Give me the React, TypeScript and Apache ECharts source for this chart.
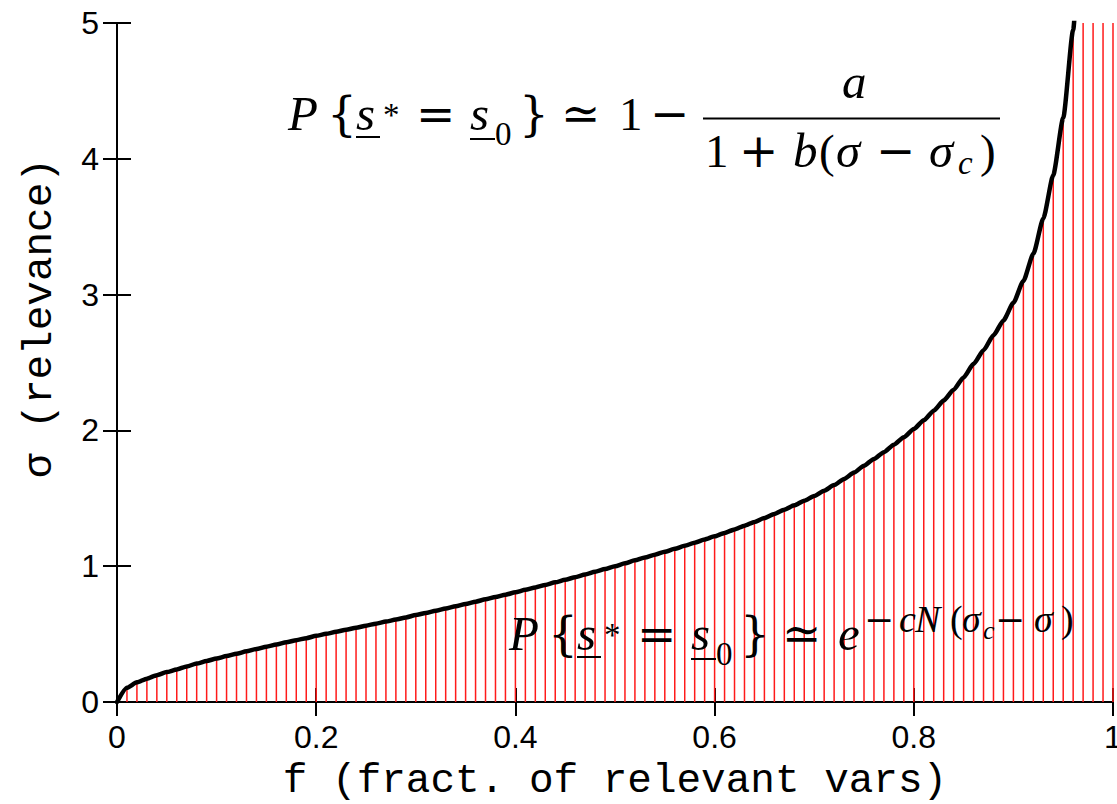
import React, { useEffect, useRef } from "react";
import * as echarts from "echarts";

// Fraction of relevant variables (x) and the critical relevance sigma_c (y)
const fractions = [
  0, 0.01, 0.02, 0.03, 0.04, 0.05, 0.06, 0.07, 0.08, 0.09,
  0.1, 0.11, 0.12, 0.13, 0.14, 0.15, 0.16, 0.17, 0.18, 0.19,
  0.2, 0.21, 0.22, 0.23, 0.24, 0.25, 0.26, 0.27, 0.28, 0.29,
  0.3, 0.31, 0.32, 0.33, 0.34, 0.35, 0.36, 0.37, 0.38, 0.39,
  0.4, 0.41, 0.42, 0.43, 0.44, 0.45, 0.46, 0.47, 0.48, 0.49,
  0.5, 0.51, 0.52, 0.53, 0.54, 0.55, 0.56, 0.57, 0.58, 0.59,
  0.6, 0.61, 0.62, 0.63, 0.64, 0.65, 0.66, 0.67, 0.68, 0.69,
  0.7, 0.71, 0.72, 0.73, 0.74, 0.75, 0.76, 0.77, 0.78, 0.79,
  0.8, 0.81, 0.82, 0.83, 0.84, 0.85, 0.86, 0.87, 0.88, 0.89,
  0.9, 0.91, 0.92, 0.93, 0.94, 0.95, 0.96, 0.97, 0.98, 0.99,
  1.0,
];

const relevance = [
  0, 0.105, 0.145, 0.172, 0.197, 0.22, 0.24, 0.262, 0.283, 0.302,
  0.32, 0.338, 0.355, 0.373, 0.39, 0.407, 0.423, 0.44, 0.455, 0.47,
  0.487, 0.502, 0.517, 0.532, 0.547, 0.562, 0.577, 0.592, 0.607, 0.623,
  0.64, 0.656, 0.672, 0.689, 0.705, 0.722, 0.739, 0.756, 0.773, 0.79,
  0.808, 0.826, 0.844, 0.862, 0.881, 0.9, 0.919, 0.939, 0.959, 0.979,
  1.0, 1.021, 1.043, 1.064, 1.085, 1.106, 1.128, 1.15, 1.173, 1.196,
  1.22, 1.245, 1.271, 1.298, 1.326, 1.355, 1.385, 1.416, 1.448, 1.482,
  1.517, 1.556, 1.598, 1.643, 1.69, 1.74, 1.79, 1.84, 1.895, 1.95,
  2.01, 2.075, 2.145, 2.22, 2.3, 2.39, 2.49, 2.59, 2.7, 2.81,
  2.94, 3.1, 3.3, 3.56, 3.88, 4.3, 4.95, 6.2, 8.0, 11.0,
  16.0,
];

const xTicks = [0, 0.2, 0.4, 0.6, 0.8, 1];
const yTicks = [0, 1, 2, 3, 4, 5];

const xTitle = "f (fract. of relevant vars)";
const yTitle = "\u03c3 (relevance)";

const MONO = "'Liberation Mono', 'DejaVu Sans Mono', monospace";
const SERIF = "'Liberation Serif', 'DejaVu Serif', serif";
const SYMB = "'DejaVu Serif', 'DejaVu Sans', serif";

// One glyph run of a typeset formula: text, left x, baseline y, size, font kind
type Run = [string, number, number, number, "i" | "r" | "s"];

const upperFormula: Run[] = [
  ["P", 288, 130, 49, "i"],
  ["{", 327, 130, 47, "s"],
  ["s", 356, 130, 49, "i"],
  ["*", 383, 126, 33, "r"],
  ["=", 416, 130, 47, "s"],
  ["s", 470, 130, 49, "i"],
  ["0", 495, 145, 33, "r"],
  ["}", 519, 130, 47, "s"],
  ["\u2243", 561, 130, 47, "s"],
  ["1", 619, 130, 47, "r"],
  ["\u2212", 650, 130, 47, "s"],
  ["a", 842, 98, 49, "i"],
  ["1", 705, 167, 47, "r"],
  ["+", 739, 167, 47, "s"],
  ["b", 793, 167, 49, "i"],
  ["(", 819, 167, 47, "r"],
  ["\u03c3", 836, 167, 49, "i"],
  ["\u2212", 876, 167, 47, "s"],
  ["\u03c3", 929, 167, 49, "i"],
  ["c", 958, 174, 33, "i"],
  [")", 980, 167, 47, "r"],
];

const lowerFormula: Run[] = [
  ["P", 509, 650, 49, "i"],
  ["{", 548, 650, 47, "s"],
  ["s", 577, 650, 49, "i"],
  ["*", 604, 646, 33, "r"],
  ["=", 637, 650, 47, "s"],
  ["s", 691, 650, 49, "i"],
  ["0", 716, 665, 33, "r"],
  ["}", 740, 650, 47, "s"],
  ["\u2243", 782, 650, 47, "s"],
  ["e", 838, 650, 49, "i"],
  ["\u2212", 864, 632, 36, "s"],
  ["c", 899, 632, 38, "i"],
  ["N", 915, 632, 38, "i"],
  ["(", 950, 632, 38, "r"],
  ["\u03c3", 962, 632, 38, "i"],
  ["c", 983, 639, 26, "i"],
  ["\u2212", 995, 632, 36, "s"],
  ["\u03c3", 1034, 632, 38, "i"],
  [")", 1061, 632, 38, "r"],
];

// Underlines below the vector symbols and the fraction bar
const rules: [number, number, number, number][] = [
  [356, 137, 380, 137],
  [470, 139, 495, 139],
  [577, 657, 601, 657],
  [691, 659, 716, 659],
  [703, 118.5, 1000, 118.5],
];

function runToGraphic(r: Run) {
  const [text, x, base, size, kind] = r;
  const family = kind === "s" ? SYMB : SERIF;
  const style = kind === "i" ? "italic " : "";
  const central = kind === "s" ? 0.346 : 0.3375;
  return {
    type: "text",
    x,
    y: base - central * size,
    z: 100,
    silent: true,
    style: {
      text,
      font: `${style}${size}px ${family}`,
      fill: "#000",
      align: "left",
      verticalAlign: "middle",
      textAlign: "left",
      textVerticalAlign: "middle",
    },
  };
}

export default function App() {
  const ref = useRef<HTMLDivElement>(null);

  useEffect(() => {
    if (!ref.current) return;
    const chart = echarts.init(ref.current, undefined, { renderer: "svg" });
    const points = fractions.map((f, i) => [f, relevance[i]]);

    const axisLine = { show: true, lineStyle: { color: "#000", width: 2 } };
    const axisTick = { show: true, inside: true, length: 14, lineStyle: { color: "#000", width: 2 } };
    const labelFont = { fontFamily: "'Liberation Sans', Arial, sans-serif", fontSize: 32, color: "#000" };

    const graphics: any[] = [
      ...upperFormula.map(runToGraphic),
      ...lowerFormula.map(runToGraphic),
      ...rules.map(([x1, y1, x2, y2]) => ({
        type: "line",
        z: 100,
        silent: true,
        shape: { x1, y1, x2, y2 },
        style: { stroke: "#000", lineWidth: 2 },
      })),
      {
        type: "text",
        x: 615,
        y: 781,
        silent: true,
        style: {
          text: xTitle,
          font: `41px ${MONO}`,
          fill: "#000",
          align: "center",
          verticalAlign: "middle",
          textAlign: "center",
          textVerticalAlign: "middle",
        },
      },
      {
        type: "text",
        x: 40,
        y: 318,
        rotation: Math.PI / 2,
        silent: true,
        style: {
          text: yTitle,
          font: `41px ${MONO}`,
          fill: "#000",
          align: "center",
          verticalAlign: "middle",
          textAlign: "center",
          textVerticalAlign: "middle",
        },
      },
    ];

    chart.setOption({
      animation: false,
      grid: { left: 117, right: 4, top: 23, bottom: 102, show: false, containLabel: false, outerBoundsMode: "none" },
      xAxis: [
        {
          type: "value",
          min: xTicks[0],
          max: xTicks[xTicks.length - 1],
          interval: 0.2,
          position: "bottom",
          axisLine,
          axisTick,
          axisLabel: { ...labelFont, margin: 19, formatter: (v: number) => String(Number(v.toFixed(1))) },
          splitLine: { show: false },
        },
        {
          type: "value",
          min: xTicks[0],
          max: xTicks[xTicks.length - 1],
          interval: 0.2,
          position: "top",
          axisLine,
          axisTick,
          axisLabel: { show: false },
          splitLine: { show: false },
        },
      ],
      yAxis: [
        {
          type: "value",
          min: yTicks[0],
          max: yTicks[yTicks.length - 1],
          interval: 1,
          position: "left",
          axisLine,
          axisTick,
          axisLabel: { ...labelFont, margin: 18 },
          splitLine: { show: false },
        },
        {
          type: "value",
          min: yTicks[0],
          max: yTicks[yTicks.length - 1],
          interval: 1,
          position: "right",
          axisLine,
          axisTick,
          axisLabel: { show: false },
          splitLine: { show: false },
        },
      ],
      series: [
        {
          type: "bar",
          xAxisIndex: 0,
          yAxisIndex: 0,
          data: points,
          barWidth: 1.5,
          silent: true,
          itemStyle: { color: "#ff1a1a" },
          z: 2,
        },
        {
          type: "line",
          xAxisIndex: 0,
          yAxisIndex: 0,
          data: points,
          showSymbol: false,
          silent: true,
          smooth: 0.2,
          smoothMonotone: "x",
          lineStyle: { color: "#000", width: 4.5, join: "round", cap: "round" },
          z: 3,
        },
      ],
      graphic: graphics,
    });

    return () => chart.dispose();
  }, []);

  return (
    <div
      ref={ref}
      style={{ position: "fixed", left: 0, top: 0, width: 1117, height: 804, background: "#fff" }}
    />
  );
}
